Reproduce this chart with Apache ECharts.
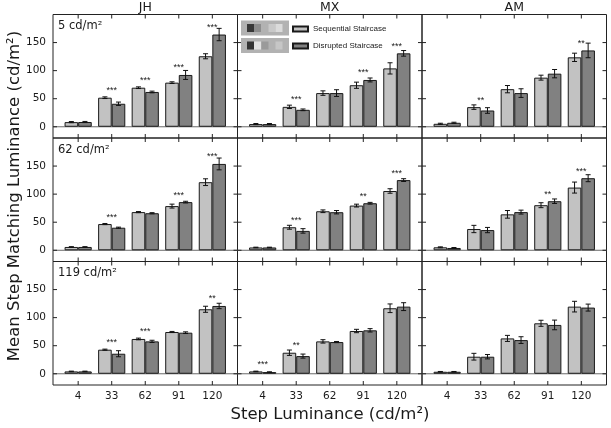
<!DOCTYPE html>
<html>
<head>
<meta charset="utf-8">
<script src="https://cdn.jsdelivr.net/npm/echarts@6/dist/echarts.min.js"></script>
<style>html,body{margin:0;padding:0;background:#fff}#chart{width:611px;height:428px}</style>
</head>
<body>
<div id="chart"></div>
<script>
// ---- labels ----
const stepLum = ['4', '33', '62', '91', '120'];
const observers = ['JH', 'MX', 'AM'];
const backgrounds = ['5 cd/m²', '62 cd/m²', '119 cd/m²'];
const yTickValues = [0, 50, 100, 150];
const seriesNames = ['Sequential Staircase', 'Disrupted Staircase'];
const xTitle = 'Step Luminance (cd/m²)';
const yTitle = 'Mean Step Matching Luminance (cd/m²)';

// ---- 5 cd/m² background ----
const seq_JH_5 = [8.3, 51.8, 69.6, 78.6, 125.6];
const seqErr_JH_5 = [1, 1.5, 1.5, 1.5, 4.5];
const dis_JH_5 = [8.5, 41, 62, 92.3, 164.3];
const disErr_JH_5 = [1, 3, 1.5, 8, 11];
const sig_JH_5 = ['', '***', '***', '***', '***'];

const seq_MX_5 = [4.8, 35.5, 60, 74, 104];
const seqErr_MX_5 = [1, 3, 4, 5.5, 10];
const dis_MX_5 = [4.8, 30.2, 60, 83.4, 130.8];
const disErr_MX_5 = [1, 1.5, 6, 3.5, 5];
const sig_MX_5 = ['', '***', '', '***', '***'];

const seq_AM_5 = [5.3, 35, 67, 87.5, 123.7];
const seqErr_AM_5 = [1, 4, 6.5, 4.4, 7.4];
const dis_AM_5 = [7.1, 29, 60, 94.6, 136];
const disErr_AM_5 = [1, 5, 7.7, 7.4, 13];
const sig_AM_5 = ['', '**', '', '', '**'];

// ---- 62 cd/m² background ----
const seq_JH_62 = [5.9, 46.7, 68, 78.7, 121.3];
const seqErr_JH_62 = [0.5, 1, 1, 3.5, 6];
const dis_JH_62 = [5.9, 40.2, 66, 85.8, 153.8];
const disErr_JH_62 = [0.5, 1, 1, 1.5, 10.5];
const sig_JH_62 = ['', '***', '', '***', '***'];

const seq_MX_62 = [5, 41, 69.5, 79.6, 105.6];
const seqErr_MX_62 = [0.5, 3.5, 2.4, 2.5, 4];
const dis_MX_62 = [5, 34.5, 67.8, 83.8, 125];
const disErr_MX_62 = [0.5, 4, 3, 1.5, 2.5];
const sig_MX_62 = ['', '***', '', '**', '***'];

const seq_AM_62 = [5.3, 37.9, 64, 80.3, 111.7];
const seqErr_AM_62 = [0.8, 6.5, 6.8, 4.4, 9.8];
const dis_AM_62 = [4.1, 36, 68, 87.4, 128.4];
const disErr_AM_62 = [0.8, 4.7, 3.5, 4, 6.2];
const sig_AM_62 = ['', '', '', '**', '***'];

// ---- 119 cd/m² background ----
const seq_JH_119 = [4.2, 42.9, 62, 74.4, 114.9];
const seqErr_JH_119 = [0.5, 1, 1.5, 1, 5.4];
const dis_JH_119 = [4.2, 35.7, 57.7, 73.2, 120.8];
const disErr_JH_119 = [0.5, 5.4, 2, 1.5, 4.8];
const sig_JH_119 = ['', '***', '***', '', '**'];

const seq_MX_119 = [4.2, 37.5, 57.7, 76.2, 116.7];
const seqErr_MX_119 = [0.5, 4.8, 3, 3, 7.7];
const dis_MX_119 = [3, 31.5, 56.5, 77.4, 119.6];
const disErr_MX_119 = [0.5, 3.6, 1, 3, 7];
const sig_MX_119 = ['***', '**', '', '', ''];

const seq_AM_119 = [3.6, 30.4, 63, 89.9, 119.6];
const seqErr_AM_119 = [0.5, 6, 5.4, 5.4, 9.5];
const dis_AM_119 = [3.6, 30.4, 60, 87, 117.9];
const disErr_AM_119 = [0.5, 3.9, 6, 8.6, 6.2];
const sig_AM_119 = ['', '', '', '', ''];

// panels[row][col]
const panels = [
  [[seq_JH_5, seqErr_JH_5, dis_JH_5, disErr_JH_5, sig_JH_5],
   [seq_MX_5, seqErr_MX_5, dis_MX_5, disErr_MX_5, sig_MX_5],
   [seq_AM_5, seqErr_AM_5, dis_AM_5, disErr_AM_5, sig_AM_5]],
  [[seq_JH_62, seqErr_JH_62, dis_JH_62, disErr_JH_62, sig_JH_62],
   [seq_MX_62, seqErr_MX_62, dis_MX_62, disErr_MX_62, sig_MX_62],
   [seq_AM_62, seqErr_AM_62, dis_AM_62, disErr_AM_62, sig_AM_62]],
  [[seq_JH_119, seqErr_JH_119, dis_JH_119, disErr_JH_119, sig_JH_119],
   [seq_MX_119, seqErr_MX_119, dis_MX_119, disErr_MX_119, sig_MX_119],
   [seq_AM_119, seqErr_AM_119, dis_AM_119, disErr_AM_119, sig_AM_119]]
];

// ---- styling / layout ----
const FONT = 'DejaVu Sans';
const TXT = '#1a1a1a';
const AX = '#222';
const LIGHT = '#c2c2c2';
const DARK = '#818181';
const colLeft = [53, 237.5, 422];
const colWidth = 184.5;
const rowTop = [14.5, 138, 261.5];
const rowHeight = 123.5;
const X_MIN = -0.75, X_MAX = 4.75;
const Y_MIN = -20, Y_MAX = 200;
const CAT_GAP = 0.19;
const TICK_LEN = 4;
const xIdx = stepLum.map((s, i) => i);

const grids = [], xAxes = [], yAxes = [], series = [];
let p = 0;
for (let r = 0; r < 3; r++) {
  for (let c = 0; c < 3; c++) {
    const [seq, seqErr, dis, disErr, sig] = panels[r][c];
    grids.push({left: colLeft[c], top: rowTop[r], width: colWidth, height: rowHeight,
      show: true, borderColor: AX, borderWidth: 1, backgroundColor: 'transparent'});
    xAxes.push({type: 'value', gridIndex: p, min: X_MIN, max: X_MAX, position: 'bottom',
      splitLine: {show: false}, axisLine: {show: false, onZero: false}, axisTick: {show: false},
      axisLabel: {show: r === 2, margin: 6, showMinLabel: false, showMaxLabel: false,
        formatter: v => (Number.isInteger(v) && stepLum[v]) || '', fontFamily: FONT, fontSize: 10.5, color: TXT}});
    yAxes.push({type: 'value', gridIndex: p, min: Y_MIN, max: Y_MAX, position: 'left',
      splitLine: {show: false}, axisLine: {show: false, onZero: false}, axisTick: {show: false},
      axisLabel: {show: c === 0, margin: 7, showMinLabel: false, showMaxLabel: false,
        formatter: v => (yTickValues.indexOf(v) >= 0 ? String(v) : ''),
        fontFamily: FONT, fontSize: 10.5, color: TXT}});

    const common = {type: 'bar', xAxisIndex: p, yAxisIndex: p,
      barGap: '0%', barCategoryGap: (CAT_GAP * 100) + '%', silent: true};
    series.push(Object.assign({}, common, {name: seriesNames[0],
      data: seq.map((v, i) => [i, v]),
      itemStyle: {color: LIGHT, borderColor: '#1a1a1a', borderWidth: 1}}));
    series.push(Object.assign({}, common, {name: seriesNames[1],
      data: dis.map((v, i) => [i, v]),
      itemStyle: {color: DARK, borderColor: '#1a1a1a', borderWidth: 1}}));
    // zero reference line (behind bars)
    series.push({type: 'custom', xAxisIndex: p, yAxisIndex: p, silent: true, z: 1,
      data: [[X_MIN, 0, X_MAX, 0]],
      renderItem: (params, api) => {
        const a = api.coord([api.value(0), api.value(1)]);
        const b = api.coord([api.value(2), api.value(3)]);
        return {type: 'line', shape: {x1: a[0], y1: a[1], x2: b[0], y2: b[1]},
          style: {stroke: '#6a6a6a', lineWidth: 1}};
      }});
    // inward ticks on all four panel sides (0 = x tick, 1 = y tick)
    series.push({type: 'custom', xAxisIndex: p, yAxisIndex: p, silent: true, z: 6, clip: false,
      data: xIdx.map(v => [0, v]).concat(yTickValues.map(v => [1, v])),
      renderItem: (params, api) => {
        const kind = api.value(0), v = api.value(1);
        const ls = {stroke: AX, lineWidth: 1};
        if (kind === 0) {
          const b = api.coord([v, Y_MIN]), t = api.coord([v, Y_MAX]);
          return {type: 'group', children: [
            {type: 'line', shape: {x1: b[0], y1: b[1], x2: b[0], y2: b[1] - TICK_LEN}, style: ls},
            {type: 'line', shape: {x1: t[0], y1: t[1], x2: t[0], y2: t[1] + TICK_LEN}, style: ls}]};
        }
        const l = api.coord([X_MIN, v]), rr = api.coord([X_MAX, v]);
        return {type: 'group', children: [
          {type: 'line', shape: {x1: l[0], y1: l[1], x2: l[0] + TICK_LEN, y2: l[1]}, style: ls},
          {type: 'line', shape: {x1: rr[0], y1: rr[1], x2: rr[0] - TICK_LEN, y2: rr[1]}, style: ls}]};
      }});
    // error bars and significance marks
    series.push({type: 'custom', xAxisIndex: p, yAxisIndex: p, silent: true, z: 5,
      data: seq.map((v, i) => [i, v, seqErr[i], dis[i], disErr[i]]),
      renderItem: (params, api) => {
        const x = api.value(0);
        const band = api.size([1, 0])[0];
        const bw = band * (1 - CAT_GAP) / 2;
        const cx = api.coord([x, 0])[0];
        const children = [];
        const pairs = [[api.value(1), api.value(2), cx - bw / 2], [api.value(3), api.value(4), cx + bw / 2]];
        const cap = 2.5;
        pairs.forEach(([m, e, px]) => {
          const yt = api.coord([x, m + e])[1];
          const yb = api.coord([x, m - e])[1];
          const ls = {stroke: '#111', lineWidth: 1};
          children.push({type: 'line', shape: {x1: px, y1: yt, x2: px, y2: yb}, style: ls});
          children.push({type: 'line', shape: {x1: px - cap, y1: yt, x2: px + cap, y2: yt}, style: ls});
          children.push({type: 'line', shape: {x1: px - cap, y1: yb, x2: px + cap, y2: yb}, style: ls});
        });
        const s = sig[params.dataIndex];
        if (s) {
          const yTop = api.coord([x, Math.max(api.value(1), api.value(3))])[1];
          children.push({type: 'text', x: cx, y: yTop - 7,
            style: {text: s, fill: TXT, fontSize: 9, fontFamily: 'Liberation Sans',
              align: 'center', verticalAlign: 'middle', textAlign: 'center', textVerticalAlign: 'middle'}});
        }
        return {type: 'group', children};
      }});
    p++;
  }
}

// ---- text & legend inset decorations ----
const graphics = [];
observers.forEach((o, c) => graphics.push({type: 'text', x: colLeft[c] + colWidth / 2, y: 8,
  style: {text: o, fill: TXT, font: '12.5px "' + FONT + '"', textAlign: 'center', textVerticalAlign: 'middle',
    align: 'center', verticalAlign: 'middle'}}));
backgrounds.forEach((b, r) => graphics.push({type: 'text', x: colLeft[0] + 5, y: rowTop[r] + 12,
  style: {text: b, fill: TXT, font: '11.5px "' + FONT + '"', textAlign: 'left', textVerticalAlign: 'middle',
    align: 'left', verticalAlign: 'middle'}, z: 10}));
graphics.push({type: 'text', x: 330, y: 415,
  style: {text: xTitle, fill: TXT, font: '16.5px "' + FONT + '"', textAlign: 'center', textVerticalAlign: 'middle',
    align: 'center', verticalAlign: 'middle'}});
graphics.push({type: 'text', x: 15, y: 196, rotation: Math.PI / 2,
  style: {text: yTitle, fill: TXT, font: '16.5px "' + FONT + '"', textAlign: 'center', textVerticalAlign: 'middle',
    align: 'center', verticalAlign: 'middle'}});
// stimulus icons in legend
const insetRows = [
  {y: 20.5, squares: [[247, '#383838'], [254, '#8c8c8c'], [268.5, '#c9c9c9'], [275.5, '#dbdbdb']]},
  {y: 38, squares: [[247, '#343434'], [254, '#e2e2e2'], [261.5, '#9a9a9a'], [275.5, '#c6c6c6']]}
];
insetRows.forEach(row => {
  graphics.push({type: 'rect', shape: {x: 241, y: row.y, width: 48, height: 15}, style: {fill: '#b2b2b2'}, z: 20});
  row.squares.forEach(([sx, col]) => graphics.push({type: 'rect',
    shape: {x: sx, y: row.y + 3.5, width: 7, height: 8}, style: {fill: col}, z: 21}));
});

const option = {
  animation: false,
  backgroundColor: '#fff',
  grid: grids, xAxis: xAxes, yAxis: yAxes, series,
  legend: {data: seriesNames.map(n => ({name: n, icon: 'rect'})), orient: 'vertical', left: 292, top: 24,
    itemWidth: 15, itemHeight: 5, itemGap: 7, selectedMode: false, padding: 0,
    textStyle: {fontSize: 8, fontFamily: 'Liberation Sans', color: TXT, lineHeight: 10}},
  graphic: graphics
};
const chart = echarts.init(document.getElementById('chart'), null, {renderer: 'canvas'});
chart.setOption(option);
</script>
</body>
</html>
